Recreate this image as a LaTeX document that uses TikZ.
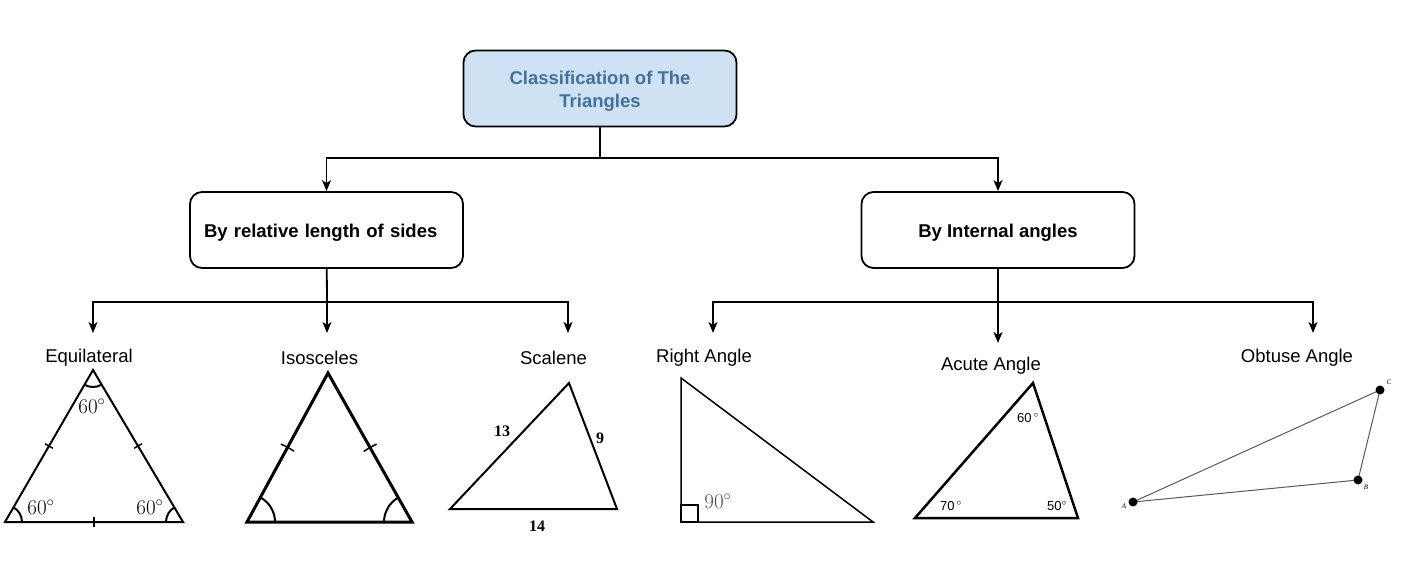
\RequirePackage{fix-cm}
\documentclass[tikz,border=0pt]{standalone}
\usepackage{fontspec}
\setmainfont{Liberation Sans}
\newfontfamily\timesfont{Liberation Serif}
\usetikzlibrary{arrows.meta}
\definecolor{boxblue}{HTML}{CFE2F3}
\definecolor{titleblue}{HTML}{41719C}
\tikzset{
  box/.style={draw,line width=1.8pt,rounded corners=12pt,minimum width=273pt,minimum height=76pt,font=\fontsize{18.5}{23}\selectfont\bfseries},
  title/.style={box,fill=boxblue,text=titleblue,align=center,text height=38pt,text depth=0pt},
  branch/.style={box,text height=16pt,text depth=0pt},
  kind/.style={inner sep=0pt,font=\fontsize{18.5}{23}\selectfont},
  link/.style={line width=1.8pt},
  arr/.style={link,-{Stealth[length=11pt,width=9pt,inset=3pt]}},
  tri/.style={line width=#1},
  tri/.default=2pt,
  deg/.style={inner sep=0pt,font=\fontsize{21}{21}\selectfont},
  side/.style={inner sep=0pt,font=\fontsize{16}{16}\selectfont\timesfont\bfseries},
  small/.style={inner sep=0pt,font=\fontsize{13}{13}\selectfont},
  dot/.style={circle,fill,inner sep=0pt,minimum size=9pt},
  tiny/.style={inner sep=0pt,font=\fontsize{7}{7}\selectfont\timesfont\itshape}
}

\begin{document}
\begin{tikzpicture}[x=1pt,y=-1pt]

    % -- Picture size (pixels of the reference) --
    \useasboundingbox (0,0) rectangle (1406,588);

    % -- Boxes --
    \node[title] (top) at (600,88.5) {Classification of The\\Triangles};
    \node[branch,align=left,text width=245pt] (sides) at (326.5,230) {By relative length of sides};
    \node[branch] (angles) at (998,230) {By Internal angles};

    % -- Kinds of triangles --
    \node[kind] (equi) at (89,358) {Equilateral};
    \node[kind] (iso) at (319.5,358) {Isosceles};
    \node[kind] (sca) at (553.5,358) {Scalene};
    \node[kind] (right) at (704,358) {Right Angle};
    \node[kind] (acute) at (991,366) {Acute Angle};
    \node[kind] (obt) at (1297,358) {Obtuse Angle};

    % -- Junctions and arrow tips --
    \coordinate (jTop) at (600,158);
    \coordinate (jSides) at (327,302);
    \coordinate (jAngles) at (998,302);
    \coordinate (tEqui) at (93,333);
    \coordinate (tIso) at (327,333);
    \coordinate (tSca) at (568,333);
    \coordinate (tRight) at (713,333);
    \coordinate (tAcute) at (998,343);
    \coordinate (tObt) at (1313,333);

    % -- Connectors --
    \draw[link] (top) -- (jTop);
    \draw[arr] (jTop) -| (sides);
    \draw[arr] (jTop) -| (angles);
    \draw[link] (sides) -- (jSides);
    \draw[arr] (jSides) -| (tEqui);
    \draw[arr] (jSides) -- (tIso);
    \draw[arr] (jSides) -| (tSca);
    \draw[link] (angles) -- (jAngles);
    \draw[arr] (jAngles) -| (tRight);
    \draw[arr] (jAngles) -- (tAcute);
    \draw[arr] (jAngles) -| (tObt);

    % -- Equilateral --
    \coordinate (eA) at (93,370);
    \coordinate (eL) at (5,522);
    \coordinate (eR) at (183,522);
    \draw[tri] (eA) -- (eL) -- (eR) -- cycle;
    \draw[tri] (eL) ++(0:17) arc[start angle=0,end angle=-60,radius=17];
    \draw[tri] (eR) ++(180:17) arc[start angle=180,end angle=240,radius=17];
    \draw[tri] (eA) ++(60:17) arc[start angle=60,end angle=120,radius=17];
    \draw[tri=1.5pt] (49,446) ++(30:4.5) -- ++(210:9);
    \draw[tri=1.5pt] (138,446) ++(-30:4.5) -- ++(150:9);
    \draw[tri=1.5pt] (94,517) -- (94,527);
    \node[deg] at (92,406) {$60^\circ$};
    \node[deg] at (41,507) {$60^\circ$};
    \node[deg] at (150,507) {$60^\circ$};

    % -- Isosceles --
    \coordinate (iA) at (328,373);
    \coordinate (iL) at (247,522);
    \coordinate (iR) at (412,522);
    \draw[tri=3pt] (iA) -- (iL) -- (iR) -- cycle;
    \draw[tri] (iL) ++(0:28) arc[start angle=0,end angle=-61.5,radius=28];
    \draw[tri] (iR) ++(180:28) arc[start angle=180,end angle=240.6,radius=28];
    \draw[tri=1.5pt] (iL) ++(-56.5:85) arc[start angle=-56.5,end angle=-66.5,radius=85];
    \draw[tri=1.5pt] (iR) ++(235.6:85.5) arc[start angle=235.6,end angle=245.6,radius=85.5];

    % -- Scalene --
    \coordinate (sA) at (569,383);
    \coordinate (sL) at (450,509);
    \coordinate (sR) at (617,509);
    \draw[tri] (sA) -- (sL) -- (sR) -- cycle;
    \node[side] at (502,431) {13};
    \node[side] at (600,438) {9};
    \node[side] at (537,526) {14};

    % -- Right angle --
    \coordinate (rA) at (681,378);
    \coordinate (rL) at (681,522);
    \coordinate (rR) at (873,522);
    \draw[tri=1.5pt] (rA) -- (rL) -- (rR) -- cycle;
    \draw[tri=1.2pt] (rL) rectangle ++(17,-17);
    \node[deg,text=black!70] at (718,501) {$90^\circ$};

    % -- Acute angle --
    \coordinate (aA) at (1033,383);
    \coordinate (aL) at (915,518);
    \coordinate (aR) at (1078,518);
    \draw[tri=2.5pt] (aA) -- (aL) -- (aR) -- cycle;
    \node[small] at (1028,418) {60\,$^\circ$};
    \node[small] at (951,506) {70\,$^\circ$};
    \node[small] at (1057,506) {50$^\circ$};

    % -- Obtuse angle --
    \coordinate (oA) at (1133,502);
    \coordinate (oB) at (1358,480);
    \coordinate (oC) at (1380,390);
    \draw[tri=1pt,black!65] (oA) -- (oB) -- (oC) -- cycle;
    \node[dot] at (oA) {};
    \node[dot] at (oB) {};
    \node[dot] at (oC) {};
    \node[tiny] at (1124,506) {A};
    \node[tiny] at (1366,487) {B};
    \node[tiny] at (1389,382) {C};

\end{tikzpicture}
\end{document}
